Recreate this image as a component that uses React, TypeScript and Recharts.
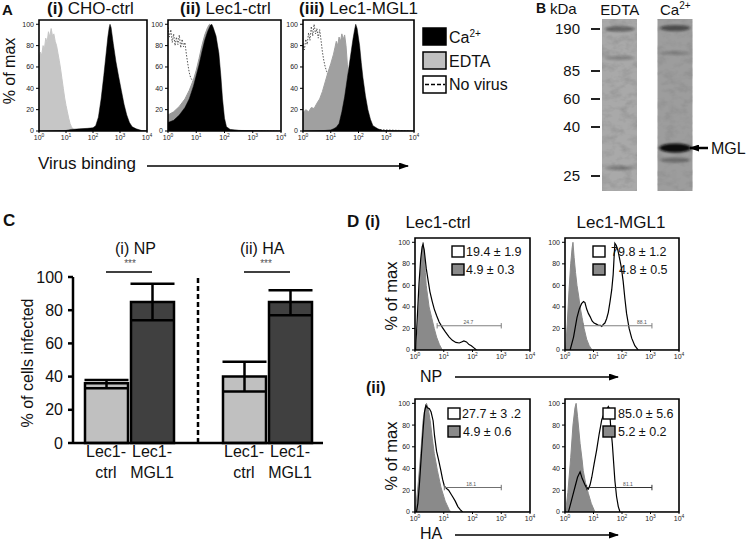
import React from 'react';
import {
  ComposedChart,
  Area,
  Bar,
  Cell,
  ErrorBar,
  Scatter,
  XAxis,
  YAxis,
  ReferenceArea,
  ReferenceLine,
  ReferenceDot,
} from 'recharts';

const FONT = '"Liberation Sans", Arial, Helvetica, sans-serif';

type Pt = [number, number];

// ---- panel A: virus binding histograms (x = log10 intensity, y = % of max)
const choCtrlEdta: Pt[] = [[0, 68], [0.05, 74], [0.1, 71], [0.15, 80], [0.2, 77], [0.25, 87], [0.3, 83], [0.35, 93], [0.4, 88], [0.45, 96], [0.5, 89], [0.55, 91], [0.6, 84], [0.65, 80], [0.7, 73], [0.75, 66], [0.8, 58], [0.85, 49], [0.9, 40], [0.95, 31], [1.0, 24], [1.05, 18], [1.1, 12], [1.15, 7], [1.2, 4], [1.25, 2], [1.35, 1], [1.5, 0.5], [4, 0]];
const choCtrlCa: Pt[] = [[0, 0], [1.0, 0.5], [1.2, 1.5], [1.5, 2], [1.8, 2.5], [2.0, 3], [2.1, 5], [2.2, 13], [2.3, 30], [2.4, 52], [2.5, 76], [2.55, 88], [2.6, 97], [2.63, 100], [2.67, 97], [2.75, 82], [2.85, 65], [2.95, 51], [3.05, 38], [3.15, 25], [3.25, 15], [3.35, 8], [3.45, 4], [3.6, 2], [3.8, 0.5], [4, 0]];

const lecCtrlNoVirus: Pt[] = [[0, 97], [0.05, 88], [0.1, 95], [0.15, 83], [0.2, 91], [0.25, 80], [0.3, 88], [0.35, 81], [0.4, 90], [0.45, 78], [0.5, 86], [0.55, 79], [0.6, 83], [0.65, 72], [0.7, 63], [0.75, 55], [0.8, 50], [0.9, 46], [1.0, 43], [1.2, 35], [1.5, 15], [1.8, 4], [2.2, 0], [4, 0]];
const lecCtrlEdta: Pt[] = [[0, 15], [0.2, 18], [0.4, 23], [0.6, 30], [0.75, 38], [0.9, 48], [1.0, 57], [1.1, 68], [1.2, 80], [1.3, 90], [1.4, 97], [1.47, 100], [1.55, 98], [1.65, 90], [1.75, 72], [1.83, 50], [1.9, 28], [1.97, 10], [2.05, 3], [2.2, 1], [2.6, 0.5], [4, 0]];
const lecCtrlCa: Pt[] = [[0, 8], [0.2, 10], [0.4, 15], [0.6, 22], [0.75, 30], [0.9, 42], [1.0, 52], [1.1, 62], [1.2, 74], [1.3, 85], [1.4, 93], [1.5, 99], [1.55, 100], [1.6, 97], [1.7, 89], [1.8, 73], [1.87, 52], [1.93, 30], [2.0, 12], [2.07, 4], [2.2, 1.5], [2.5, 0.5], [4, 0]];

const lecMglNoVirus: Pt[] = [[0, 82], [0.05, 76], [0.1, 86], [0.15, 81], [0.2, 92], [0.25, 85], [0.3, 98], [0.35, 89], [0.4, 100], [0.45, 91], [0.5, 96], [0.55, 87], [0.6, 95], [0.65, 85], [0.7, 74], [0.75, 66], [0.8, 60], [0.85, 56], [0.9, 52], [1.0, 45], [1.2, 30], [1.5, 12], [2, 2], [4, 0]];
const lecMglEdta: Pt[] = [[0, 17], [0.1, 20], [0.2, 18], [0.3, 22], [0.4, 21], [0.5, 26], [0.6, 30], [0.7, 37], [0.8, 46], [0.9, 55], [1.0, 63], [1.1, 72], [1.15, 78], [1.2, 84], [1.25, 80], [1.3, 88], [1.35, 84], [1.4, 91], [1.45, 86], [1.5, 90], [1.55, 80], [1.6, 62], [1.65, 40], [1.7, 20], [1.75, 8], [1.85, 2], [2, 0.5], [4, 0]];
const lecMglCa: Pt[] = [[0, 0], [0.8, 0.5], [1.0, 1], [1.1, 2], [1.2, 3.5], [1.3, 7], [1.4, 18], [1.5, 32], [1.6, 50], [1.7, 68], [1.8, 86], [1.86, 95], [1.9, 100], [1.95, 96], [2.04, 80], [2.1, 64], [2.16, 50], [2.25, 33], [2.34, 20], [2.43, 11], [2.52, 5], [2.7, 2], [2.88, 0.5], [4, 0]];

// ---- panel D: NP / HA staining histograms
const npCtrlIso: Pt[] = [[0.05, 0], [0.1, 20], [0.15, 48], [0.2, 75], [0.25, 94], [0.28, 100], [0.32, 88], [0.36, 72], [0.39, 60], [0.44, 50], [0.49, 40], [0.58, 30], [0.67, 20], [0.75, 12], [0.85, 5], [0.95, 0], [4, 0]];
const npCtrlStain: Pt[] = [[0.02, 0], [0.08, 30], [0.14, 62], [0.2, 85], [0.25, 96], [0.28, 98], [0.32, 93], [0.39, 76], [0.46, 64], [0.52, 54], [0.6, 45], [0.67, 38], [0.75, 32], [0.84, 26], [0.95, 21], [1.05, 17], [1.19, 12], [1.3, 9], [1.42, 7], [1.54, 6.5], [1.62, 7.5], [1.7, 8.5], [1.79, 7.5], [1.88, 5], [1.96, 4], [2.05, 2], [2.14, 0]];
const npMglIso: Pt[] = [[0.02, 0], [0.08, 25], [0.14, 55], [0.2, 80], [0.25, 95], [0.28, 100], [0.32, 86], [0.37, 72], [0.42, 60], [0.48, 50], [0.53, 40], [0.6, 30], [0.67, 20], [0.76, 10], [0.85, 4], [0.95, 0], [4, 0]];
const npMglStain: Pt[] = [[0.18, 0], [0.3, 12], [0.42, 30], [0.5, 38], [0.58, 43], [0.65, 45], [0.7, 44], [0.76, 38], [0.82, 34], [0.88, 31], [0.95, 27], [1.02, 25], [1.1, 24], [1.17, 23], [1.24, 23], [1.29, 22], [1.35, 24], [1.4, 25], [1.46, 29], [1.52, 35], [1.58, 45], [1.64, 56], [1.69, 70], [1.72, 85], [1.75, 99], [1.8, 97], [1.86, 92], [1.93, 83], [1.98, 76], [2.04, 64], [2.1, 48], [2.16, 34], [2.25, 20], [2.34, 11], [2.45, 4], [2.57, 0]];
const haCtrlIso: Pt[] = [[0, 0], [0.02, 2], [0.1, 23], [0.2, 54], [0.28, 84], [0.35, 96], [0.4, 100], [0.46, 95], [0.53, 84], [0.6, 68], [0.67, 54], [0.78, 38], [0.9, 23], [1.05, 10], [1.19, 2], [1.25, 0], [4, 0]];
const haCtrlStain: Pt[] = [[0.05, 0], [0.1, 8], [0.16, 28], [0.22, 52], [0.28, 75], [0.33, 92], [0.38, 98], [0.43, 96], [0.5, 95], [0.56, 92], [0.63, 84], [0.68, 70], [0.75, 56], [0.82, 48], [0.9, 38], [0.96, 30], [1.02, 24], [1.08, 22], [1.17, 20], [1.24, 17], [1.31, 14], [1.4, 10], [1.49, 5], [1.58, 2], [1.66, 0]];
const haMglIso: Pt[] = [[0.02, 0], [0.1, 18], [0.2, 50], [0.28, 80], [0.35, 96], [0.39, 100], [0.44, 88], [0.53, 63], [0.6, 48], [0.64, 38], [0.72, 27], [0.82, 17], [0.92, 8], [1.05, 0], [4, 0]];
const haMglStain: Pt[] = [[0.12, 0], [0.2, 8], [0.28, 16], [0.35, 23], [0.44, 32], [0.53, 37], [0.6, 31], [0.7, 25], [0.76, 22], [0.82, 21], [0.88, 25], [0.94, 32], [1.02, 44], [1.11, 57], [1.2, 72], [1.29, 85], [1.38, 91], [1.46, 94], [1.52, 97], [1.56, 95], [1.6, 80], [1.66, 63], [1.75, 29], [1.81, 14], [1.87, 5], [1.93, 0]];

// gates: [from, to, label position] in log10 units, y in %
const gateLevel = 22.5;
const npCtrlGate = [0.77, 3.0, 1.86];
const npMglGate = [0.63, 3.05, 2.7];
const haCtrlGate = [1.02, 3.0, 1.95];
const haMglGate = [0.76, 3.05, 2.21];
const gateLabels = ['24.7', '88.1', '18.1', '81.1'];

const logTicks = [0, 1, 2, 3, 4];
const pctTicks = [0, 20, 40, 60, 80, 100];

// ---- panel B: gel
const gelLanes = ['EDTA', 'Ca2+'];
const gelLength = 172; // migration distance units from the well
const markerKDa = [190, 85, 60, 40, 25];
const markerMigration = [10, 52, 80, 108, 157];
const edtaBandMigration = [10, 39, 149];
const edtaBandStrength = [0.38, 0.2, 0.22];
const caBandMigration = [9, 34, 129, 141];
const caBandStrength = [0.5, 0.16, 1, 0.3];

// ---- panel C: % infected
const cGroups = ['np-ctrl', 'np-mgl', 'gap', 'ha-ctrl', 'ha-mgl'];
const cTickLabels: ([string, string] | null)[] = [['Lec1-', 'ctrl'], ['Lec1-', 'MGL1'], null, ['Lec1-', 'ctrl'], ['Lec1-', 'MGL1']];
const cInfected = [36, 85, null, 40, 85];
const cErrDown = [3, 11, 0, 9, 8];
const cErrUp = [2, 11, 0, 9, 7];

const toData = (pts: Pt[]) => pts.map(([x, y]) => ({ x, y }));

function LogTick(props: any) {
  const { x, y, payload, fs } = props;
  return (
    <text x={x} y={y + fs * 0.9} textAnchor="middle" fontSize={fs} fill="#222">
      10<tspan dy={-fs * 0.42} fontSize={fs * 0.7}>{payload.value}</tspan>
    </text>
  );
}

type Series = { pts: Pt[]; fill: string; stroke: string; dash?: string; width?: number };
type Gate = { range: number[]; label: string; color: string };

function Histogram({ left, top, w, h, series, gate, fs = 7 }: { left: number; top: number; w: number; h: number; series: Series[]; gate?: Gate; fs?: number }) {
  const YW = 24, MT = 4, XH = 16, MR = 10;
  return (
    <div style={{ position: 'absolute', left: left - YW, top: top - MT }}>
      <ComposedChart width={YW + w + MR} height={MT + h + XH} margin={{ top: MT, right: MR, left: 0, bottom: 0 }}>
        <XAxis type="number" dataKey="x" domain={[0, 4]} ticks={logTicks} interval={0} allowDataOverflow height={XH}
          axisLine={false} tickSize={2} tickMargin={1} tickLine={{ stroke: '#000' }} tick={<LogTick fs={fs} />} />
        <YAxis type="number" domain={[0, 104]} ticks={pctTicks} interval={0} allowDataOverflow width={YW}
          axisLine={false} tickSize={3} tickMargin={2} tickLine={{ stroke: '#000' }} tick={{ fontSize: fs, fill: '#222' }} />
        {series.map((s, i) => (
          <Area key={i} data={toData(s.pts)} dataKey="y" type="linear" fill={s.fill} fillOpacity={1}
            stroke={s.stroke} strokeWidth={s.width ?? 1} strokeDasharray={s.dash}
            isAnimationActive={false} dot={false} activeDot={false} />
        ))}
        <ReferenceArea x1={0} x2={4} y1={0} y2={104} fill="none" stroke="#000" strokeWidth={1.6} />
        {gate && (
          <ReferenceLine segment={[{ x: gate.range[0], y: gateLevel }, { x: gate.range[1], y: gateLevel }]} stroke={gate.color} strokeWidth={1.1} />
        )}
        {gate && (
          <ReferenceLine segment={[{ x: gate.range[0], y: gateLevel - 2.5 }, { x: gate.range[0], y: gateLevel + 2.5 }]} stroke={gate.color} strokeWidth={1} />
        )}
        {gate && (
          <ReferenceLine segment={[{ x: gate.range[1], y: gateLevel - 2.5 }, { x: gate.range[1], y: gateLevel + 2.5 }]} stroke={gate.color} strokeWidth={1} />
        )}
        {gate && (
          <ReferenceDot x={gate.range[2]} y={gateLevel} r={0.01} fill="none" stroke="none"
            label={{ value: gate.label, position: 'top', fontSize: 5, fill: '#555', offset: 2 }} />
        )}
      </ComposedChart>
    </div>
  );
}

function KdaTick(props: any) {
  const { x, y, payload } = props;
  const i = markerMigration.indexOf(payload.value);
  return (
    <g>
      <line x1={x - 1} x2={x + 8} y1={y} y2={y} stroke="#222" strokeWidth={2} />
      <text x={x - 12} y={y} dy="0.36em" textAnchor="end" fontSize={15} fill="#111">{markerKDa[i]}</text>
    </g>
  );
}

function LaneTick(props: any) {
  const { x, y, payload } = props;
  if (payload.value === 'Ca2+') {
    return (
      <text x={x} y={y - 4} textAnchor="middle" fontSize={15} fill="#111">
        Ca<tspan dy={-6} fontSize={10}>2+</tspan>
      </text>
    );
  }
  return <text x={x} y={y - 4} textAnchor="middle" fontSize={15} fill="#111">{payload.value}</text>;
}

function LaneShape(p: any) {
  const y = Math.min(p.y, p.y + p.height);
  return <rect x={p.x} y={y} width={p.width} height={Math.abs(p.height)} fill={p.fill} filter="url(#gelGrain)" />;
}

function BandShape(p: any) {
  const s = p.payload.strength;
  return (
    <ellipse cx={p.cx} cy={p.cy} rx={s > 0.9 ? 16 : 15} ry={1.6 + 3 * s} fill="#0a0a0a"
      opacity={Math.min(1, s * 1.1)} filter="url(#bandBlur)" />
  );
}

function Gel() {
  const laneData = gelLanes.map((lane) => ({ lane, gel: gelLength }));
  const bands = [
    ...edtaBandMigration.map((mig, i) => ({ lane: 'EDTA', mig, strength: edtaBandStrength[i] })),
    ...caBandMigration.map((mig, i) => ({ lane: 'Ca2+', mig, strength: caBandStrength[i] })),
  ];
  return (
    <div style={{ position: 'absolute', left: 532, top: 0 }}>
      <ComposedChart width={181} height={195} data={laneData} margin={{ top: 0, right: 10, left: 0, bottom: 4 }}>
        <XAxis dataKey="lane" type="category" allowDuplicatedCategory={false} orientation="top" height={19}
          axisLine={false} tickLine={false} tickSize={0} tickMargin={0} tick={<LaneTick />} />
        <YAxis type="number" reversed domain={[0, gelLength]} ticks={markerMigration} interval={0} width={60}
          axisLine={false} tickLine={false} tickSize={0} tickMargin={0} tick={<KdaTick />} />
        <Bar dataKey="gel" barSize={35} isAnimationActive={false} shape={<LaneShape />}>
          <Cell fill="#a9a9a9" />
          <Cell fill="#9d9d9d" />
        </Bar>
        <Scatter data={bands} dataKey="mig" isAnimationActive={false} shape={<BandShape />} />
      </ComposedChart>
    </div>
  );
}

function GroupTick(props: any) {
  const { x, y, payload } = props;
  const lines = cTickLabels[cGroups.indexOf(payload.value)];
  if (!lines) return null;
  return (
    <text x={x} y={y} textAnchor="middle" fontSize={16} fill="#111">
      <tspan x={x} dy={14}>{lines[0]}</tspan>
      <tspan x={x} dy={21}>{lines[1]}</tspan>
    </text>
  );
}

function Infection() {
  const data = cGroups.map((g, i) => ({
    g,
    v: cInfected[i],
    err: cInfected[i] == null ? undefined : [cErrDown[i], cErrUp[i]],
  }));
  return (
    <div style={{ position: 'absolute', left: 20, top: 242 }}>
      <ComposedChart width={315} height={241} data={data} margin={{ top: 35, right: 12, left: 0, bottom: 0 }}>
        <XAxis dataKey="g" height={40} padding={{ left: 10, right: 10 }} interval={0}
          axisLine={{ stroke: '#000', strokeWidth: 2.5 }} tickLine={false} tickSize={0} tickMargin={0} tick={<GroupTick />} />
        <YAxis type="number" domain={[0, 100]} ticks={pctTicks} interval={0} width={53}
          axisLine={{ stroke: '#000', strokeWidth: 2.5 }} tickLine={{ stroke: '#000', strokeWidth: 2.5 }}
          tickSize={5} tickMargin={5} tick={{ fontSize: 16, fill: '#111' }} />
        <ReferenceLine x="gap" stroke="#000" strokeWidth={2.5} strokeDasharray="5 3" />
        <Bar dataKey="v" barSize={43} stroke="#000" strokeWidth={2.5} isAnimationActive={false}>
          {cGroups.map((g) => (
            <Cell key={g} fill={g.endsWith('mgl') ? '#404040' : '#c0c0c0'} />
          ))}
          <ErrorBar dataKey="err" width={22} stroke="#000" strokeWidth={2.5} direction="y" />
        </Bar>
        <ReferenceLine segment={[{ x: 'np-ctrl', y: 103 }, { x: 'np-mgl', y: 103 }]} ifOverflow="visible" stroke="#000" strokeWidth={1.5} />
        <ReferenceLine segment={[{ x: 'ha-ctrl', y: 103 }, { x: 'ha-mgl', y: 103 }]} ifOverflow="visible" stroke="#000" strokeWidth={1.5} />
      </ComposedChart>
    </div>
  );
}

function LegendBox({ x, y, fill, text, tx }: { x: number; y: number; fill: string; text: string; tx: number }) {
  return (
    <g>
      <rect x={x} y={y} width={12} height={11} fill={fill} stroke="#000" strokeWidth={1.4} />
      <text x={tx} y={y + 10} fontSize={12.5} fill="#111">{text}</text>
    </g>
  );
}

function Overlay() {
  const T = { fill: '#111' };
  return (
    <svg width={750} height={543} style={{ position: 'absolute', left: 0, top: 0, pointerEvents: 'none' }}>
      <defs>
        <marker id="ah" markerWidth={10} markerHeight={7} refX={9} refY={3.5} orient="auto" markerUnits="userSpaceOnUse">
          <path d="M0,0 L10,3.5 L0,7 z" fill="#000" />
        </marker>
      </defs>
      {/* panel A */}
      <text x={2} y={15} fontSize={15} fontWeight="bold" {...T}>A</text>
      <text x={47} y={14} fontSize={17} {...T}><tspan fontWeight="bold">(i)</tspan> CHO-ctrl</text>
      <text x={180} y={14} fontSize={17} {...T}><tspan fontWeight="bold">(ii)</tspan> Lec1-ctrl</text>
      <text x={299} y={14} fontSize={17} {...T}><tspan fontWeight="bold">(iii)</tspan> Lec1-MGL1</text>
      <text transform="translate(15,71) rotate(-90)" textAnchor="middle" fontSize={16} {...T}>% of max</text>
      <text x={38} y={169} fontSize={17} {...T}>Virus binding</text>
      <line x1={147} y1={166} x2={408} y2={166} stroke="#000" strokeWidth={1.5} markerEnd="url(#ah)" />
      <rect x={423} y={28} width={23} height={17} fill="#000" stroke="#000" strokeWidth={1.5} />
      <rect x={423} y={52} width={23} height={17} fill="#c0c0c0" stroke="#000" strokeWidth={1.5} />
      <rect x={423} y={76} width={23} height={17} fill="#fff" stroke="#000" strokeWidth={1.5} />
      <line x1={425} y1={84.5} x2={445} y2={84.5} stroke="#000" strokeWidth={1.3} strokeDasharray="4 2" />
      <text x={449} y={43} fontSize={16} {...T}>Ca<tspan dy={-6} fontSize={10}>2+</tspan></text>
      <text x={449} y={67} fontSize={16} {...T}>EDTA</text>
      <text x={449} y={90} fontSize={16} {...T}>No virus</text>

      {/* panel B */}
      <text x={536} y={13} fontSize={14} fontWeight="bold" {...T}>B</text>
      <text x={550} y={14} fontSize={15} {...T}>kDa</text>
      <line x1={708} y1={148} x2={690} y2={148} stroke="#000" strokeWidth={2.5} markerEnd="url(#ah)" />
      <text x={711} y={154} fontSize={16} {...T}>MGL</text>

      {/* panel C */}
      <text x={3} y={226} fontSize={17} fontWeight="bold" {...T}>C</text>
      <text x={115} y={254} fontSize={16} {...T}>(i) NP</text>
      <text x={240} y={254} fontSize={16} {...T}>(ii) HA</text>
      <text x={130} y={267} fontSize={10} textAnchor="middle" fill="#555">***</text>
      <text x={266} y={267} fontSize={10} textAnchor="middle" fill="#555">***</text>
      <text transform="translate(33,363) rotate(-90)" textAnchor="middle" fontSize={16} {...T}>% of cells infected</text>

      {/* panel D */}
      <text x={347} y={227} fontSize={17} fontWeight="bold" {...T}>D</text>
      <text x={365} y={227} fontSize={16} fontWeight="bold" {...T}>(i)</text>
      <text x={438} y={228} fontSize={17} textAnchor="middle" {...T}>Lec1-ctrl</text>
      <text x={621} y={228} fontSize={17} textAnchor="middle" {...T}>Lec1-MGL1</text>
      <text x={366} y={393} fontSize={16} fontWeight="bold" {...T}>(ii)</text>
      <text transform="translate(397,296) rotate(-90)" textAnchor="middle" fontSize={16.5} {...T}>% of max</text>
      <text transform="translate(397,456) rotate(-90)" textAnchor="middle" fontSize={16.5} {...T}>% of max</text>
      <text x={420} y={382} fontSize={16} {...T}>NP</text>
      <line x1={455} y1={377} x2={618} y2={377} stroke="#000" strokeWidth={1.5} markerEnd="url(#ah)" />
      <text x={420} y={539} fontSize={16} {...T}>HA</text>
      <line x1={455} y1={535} x2={618} y2={535} stroke="#000" strokeWidth={1.5} markerEnd="url(#ah)" />

      <LegendBox x={452} y={246} fill="#fff" text="19.4 ± 1.9" tx={466} />
      <LegendBox x={452} y={264} fill="#8a8a8a" text="4.9 ± 0.3" tx={466} />
      <LegendBox x={593} y={246} fill="#fff" text="79.8 ± 1.2" tx={611} />
      <LegendBox x={593} y={264} fill="#8a8a8a" text="4.8 ± 0.5" tx={619} />
      <LegendBox x={448} y={408} fill="#fff" text="27.7 ± 3 .2" tx={462} />
      <LegendBox x={448} y={426} fill="#8a8a8a" text="4.9 ± 0.6" tx={463} />
      <LegendBox x={603} y={408} fill="#fff" text="85.0 ± 5.6" tx={618} />
      <LegendBox x={603} y={426} fill="#8a8a8a" text="5.2 ± 0.2" tx={618} />
    </svg>
  );
}

const isoGray = '#8a8a8a';

export default function App() {
  return (
    <div style={{ position: 'absolute', left: 0, top: 0, width: 750, height: 543, background: '#fff', fontFamily: FONT, overflow: 'hidden' }}>
      <svg width={0} height={0} style={{ position: 'absolute' }}>
        <defs>
          <filter id="gelGrain" x="0" y="0" width="100%" height="100%">
            <feTurbulence type="fractalNoise" baseFrequency="0.09 0.14" numOctaves={3} seed={7} result="noise" />
            <feColorMatrix in="noise" type="matrix" values="0 0 0 0 0.25  0 0 0 0 0.25  0 0 0 0 0.25  0 0 0 1.3 -0.55" result="spots" />
            <feComposite in="spots" in2="SourceGraphic" operator="in" result="clipped" />
            <feMerge>
              <feMergeNode in="SourceGraphic" />
              <feMergeNode in="clipped" />
            </feMerge>
          </filter>
          <filter id="bandBlur" x="-30%" y="-100%" width="160%" height="300%">
            <feGaussianBlur stdDeviation="1.6 1.1" />
          </filter>
        </defs>
      </svg>

      <Histogram left={39} top={20} w={108} h={111} series={[
        { pts: choCtrlEdta, fill: '#c6c6c6', stroke: '#c6c6c6' },
        { pts: choCtrlCa, fill: '#000', stroke: '#000', width: 0.5 },
      ]} />
      <Histogram left={168} top={20} w={113} h={111} series={[
        { pts: lecCtrlNoVirus, fill: 'none', stroke: '#444', dash: '1.5 1.5', width: 0.9 },
        { pts: lecCtrlEdta, fill: '#999', stroke: '#999' },
        { pts: lecCtrlCa, fill: '#000', stroke: '#000', width: 0.5 },
      ]} />
      <Histogram left={303} top={20} w={111} h={111} series={[
        { pts: lecMglNoVirus, fill: 'none', stroke: '#444', dash: '1.5 1.5', width: 0.9 },
        { pts: lecMglEdta, fill: '#a0a0a0', stroke: '#a0a0a0' },
        { pts: lecMglCa, fill: '#000', stroke: '#000', width: 0.5 },
      ]} />

      <Histogram left={415} top={238} w={115} h={112} series={[
        { pts: npCtrlIso, fill: isoGray, stroke: isoGray },
        { pts: npCtrlStain, fill: 'none', stroke: '#000', width: 1.2 },
      ]} gate={{ range: npCtrlGate, label: gateLabels[0], color: '#808080' }} />
      <Histogram left={565} top={238} w={114} h={112} series={[
        { pts: npMglIso, fill: isoGray, stroke: isoGray },
        { pts: npMglStain, fill: 'none', stroke: '#000', width: 1.2 },
      ]} gate={{ range: npMglGate, label: gateLabels[1], color: '#808080' }} />
      <Histogram left={415} top={399} w={115} h={113} series={[
        { pts: haCtrlIso, fill: isoGray, stroke: isoGray },
        { pts: haCtrlStain, fill: 'none', stroke: '#000', width: 1.2 },
      ]} gate={{ range: haCtrlGate, label: gateLabels[2], color: '#707070' }} />
      <Histogram left={565} top={399} w={114} h={113} series={[
        { pts: haMglIso, fill: isoGray, stroke: isoGray },
        { pts: haMglStain, fill: 'none', stroke: '#000', width: 1.2 },
      ]} gate={{ range: haMglGate, label: gateLabels[3], color: '#333' }} />

      <Gel />
      <Infection />
      <Overlay />
    </div>
  );
}
